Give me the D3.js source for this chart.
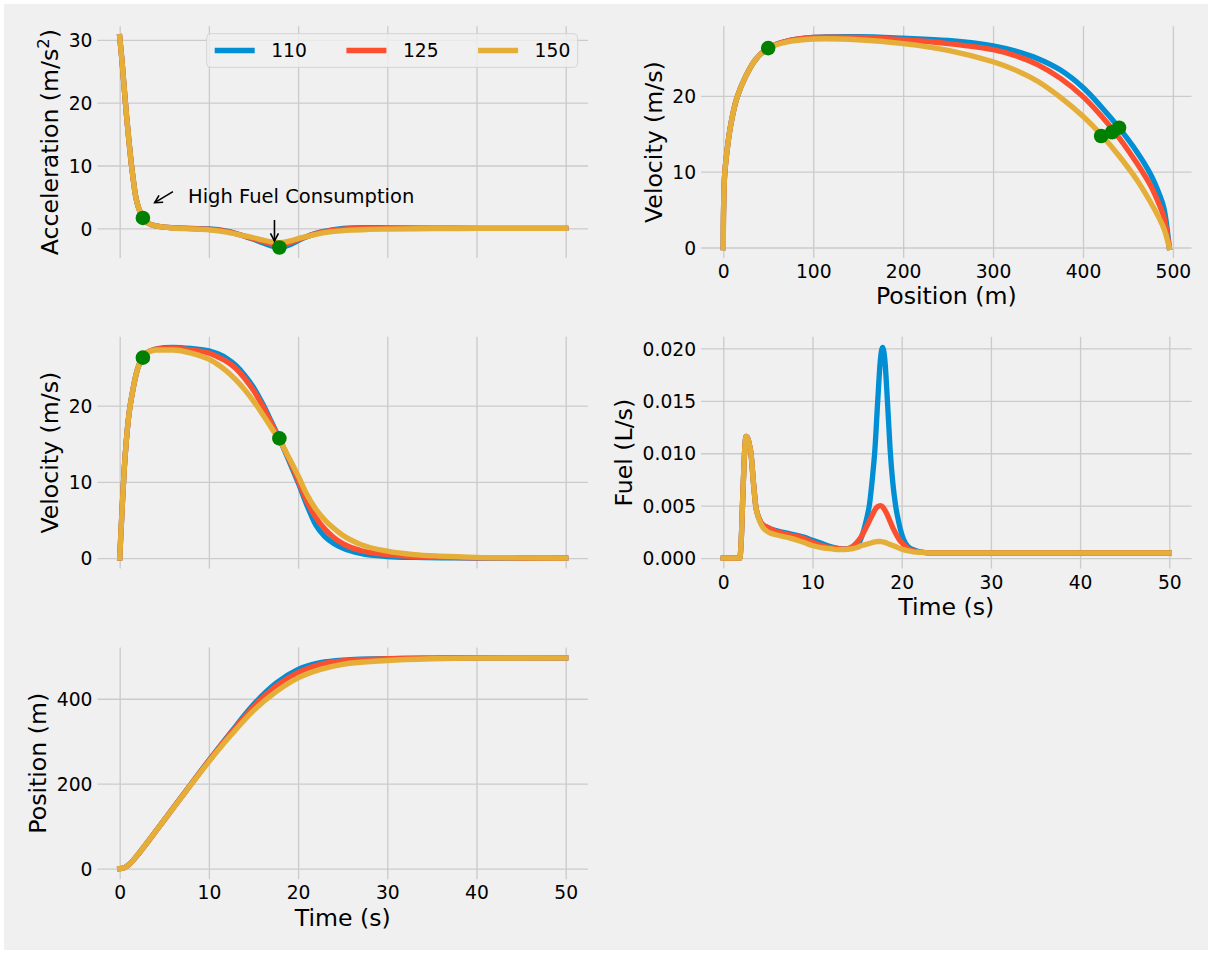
<!DOCTYPE html>
<html>
<head>
<meta charset="utf-8">
<script src="https://cdn.jsdelivr.net/npm/d3@7"></script>
<style>
  body { margin: 0; background: #ffffff; }
  svg { display: block; }
</style>
</head>
<body>
<svg id="drawing_region"></svg>
<script>
// ---- data ----
const series_names  = ["110", "125", "150"];
const series_colors = ["#008fd5", "#fc4f30", "#e5ae38"];

// acceleration (m/s^2) vs time (s)
const acc_time = [0, 0.25, 0.5, 0.75, 1, 1.25, 1.5, 1.75, 2, 2.3, 2.6, 3, 3.5, 4, 5, 6, 8, 10, 12, 14, 15, 16, 17, 17.9, 19, 20, 21, 22, 24, 26, 28, 30, 35, 40, 50];
const acc_110 = [30.5, 26.8, 22.4, 18.2, 14.4, 10.9, 8.0, 5.4, 3.8, 2.6, 1.65, 1.0, 0.6, 0.4, 0.2, 0.1, -0.02, -0.1, -0.45, -1.25, -1.75, -2.3, -2.8, -3.05, -2.65, -1.95, -1.3, -0.8, -0.2, 0.08, 0.12, 0.08, 0.02, 0, 0];
const acc_125 = [30.5, 26.8, 22.4, 18.2, 14.4, 10.9, 8.0, 5.4, 3.8, 2.6, 1.65, 1.0, 0.6, 0.4, 0.2, 0.08, -0.05, -0.15, -0.5, -1.25, -1.65, -2.1, -2.5, -2.7, -2.35, -1.8, -1.3, -0.85, -0.3, -0.05, 0.03, 0.02, 0, 0, 0];
const acc_150 = [30.5, 26.8, 22.4, 18.2, 14.4, 10.9, 8.0, 5.4, 3.8, 2.6, 1.65, 1.0, 0.6, 0.4, 0.2, 0.05, -0.1, -0.25, -0.6, -1.2, -1.5, -1.85, -2.15, -2.3, -2.05, -1.65, -1.3, -0.95, -0.5, -0.28, -0.18, -0.12, -0.05, -0.02, 0];

// velocity (m/s) vs time (s)
const vel_time = [0, 0.25, 0.5, 0.75, 1, 1.5, 2, 2.6, 3, 4, 5, 6, 8, 10, 11, 12, 13, 14, 15, 16, 17, 18, 19, 20, 21, 22, 23, 24, 25, 27, 30, 33, 36, 40, 45, 50];
const vel_110 = [0, 6, 11.5, 15.5, 18.5, 22.2, 24.8, 26.3, 26.9, 27.4, 27.6, 27.65, 27.5, 27.2, 26.8, 26.2, 25.3, 24.0, 22.4, 20.3, 17.9, 15.4, 12.7, 9.9, 6.9, 4.3, 2.8, 1.9, 1.3, 0.6, 0.2, 0.08, 0.03, 0.01, 0, 0];
const vel_125 = [0, 6, 11.5, 15.5, 18.5, 22.2, 24.8, 26.3, 26.9, 27.4, 27.5, 27.55, 27.3, 26.9, 26.4, 25.8, 24.9, 23.6, 22.0, 20.0, 17.7, 15.4, 12.9, 10.2, 7.4, 5.3, 3.8, 2.7, 1.9, 1.0, 0.45, 0.2, 0.1, 0.04, 0.01, 0];
const vel_150 = [0, 6, 11.5, 15.5, 18.5, 22.2, 24.8, 26.3, 26.9, 27.3, 27.3, 27.3, 26.9, 26.1, 25.4, 24.5, 23.4, 22.1, 20.6, 18.9, 17.1, 15.3, 13.1, 10.8, 8.3, 6.4, 5.0, 3.9, 3.0, 1.8, 0.9, 0.45, 0.25, 0.1, 0.03, 0];

// position (m) vs time (s)
const pos_time = [0, 0.5, 1, 2, 3, 4, 5, 7.5, 10, 12.5, 15, 17.5, 20, 22.5, 25, 30, 35, 40, 50];
const pos_110 = [0, 2, 9, 32, 59, 87, 115, 185, 255, 322, 386, 436, 469, 485, 491, 494.5, 495.5, 496, 496];
const pos_125 = [0, 2, 9, 32, 59, 87, 115, 185, 254, 320, 381, 429, 462, 481, 489, 494, 495.5, 496, 496];
const pos_150 = [0, 2, 9, 32, 59, 87, 115, 184, 252, 315, 372, 416, 449, 469, 481, 490, 494, 495.5, 496];

// velocity (m/s) vs position (m)
const vx_pos = [0, 0.3, 1.5, 4, 8, 15, 25, 36, 50, 70, 100, 150, 200, 250, 300, 325, 350, 375, 400, 420, 440, 460, 475, 485, 490, 496];
const vx_110 = [0, 5, 9.6, 12.6, 16.0, 19.7, 22.6, 24.8, 26.3, 27.2, 27.7, 27.8, 27.6, 27.3, 26.6, 25.9, 24.9, 23.4, 21.1, 18.6, 15.8, 12.6, 9.7, 7.0, 5.2, 0];
const vx_125 = [0, 5, 9.6, 12.6, 16.0, 19.7, 22.6, 24.8, 26.3, 27.2, 27.7, 27.7, 27.4, 26.9, 26.1, 25.3, 24.1, 22.3, 19.9, 17.4, 14.5, 11.1, 8.2, 5.6, 4.0, 0];
const vx_150 = [0, 5, 9.6, 12.6, 16.0, 19.7, 22.6, 24.8, 26.3, 27.1, 27.5, 27.4, 26.9, 26.0, 24.5, 23.4, 21.9, 19.8, 17.3, 14.9, 12.1, 8.9, 6.0, 3.8, 2.5, 0];

// fuel (L/s) vs time (s)
const fuel_time = [0, 1.85, 2.0, 2.2, 2.4, 2.55, 2.75, 2.95, 3.1, 3.35, 3.63, 4.0, 4.3, 5, 6, 7.5, 9, 10, 11, 12, 13, 13.5, 14, 14.5, 15, 15.5, 16, 16.4, 16.7, 17.0, 17.3, 17.6, 17.85, 18.1, 18.4, 18.7, 19.0, 19.3, 19.7, 20.2, 20.7, 21.3, 22, 23, 25, 30, 40, 50];
const fuel_110 = [0, 0, 0.0015, 0.0062, 0.0103, 0.0116, 0.0114, 0.0107, 0.0100, 0.0075, 0.0050, 0.0038, 0.0033, 0.0029, 0.0026, 0.0023, 0.0020, 0.0017, 0.0014, 0.0011, 0.0009, 0.00085, 0.0009, 0.0010, 0.0012, 0.0020, 0.0035, 0.0052, 0.0075, 0.0104, 0.0148, 0.0188, 0.0201, 0.0190, 0.0150, 0.0104, 0.0072, 0.0051, 0.0033, 0.0018, 0.0011, 0.0008, 0.0006, 0.0005, 0.0005, 0.0005, 0.0005, 0.0005];
const fuel_125 = [0, 0, 0.0015, 0.0062, 0.0103, 0.0116, 0.0114, 0.0107, 0.0100, 0.0075, 0.0050, 0.0038, 0.0033, 0.0029, 0.0025, 0.0022, 0.0019, 0.0015, 0.0012, 0.0010, 0.0009, 0.00085, 0.0009, 0.0011, 0.0015, 0.0021, 0.0029, 0.0036, 0.0041, 0.0046, 0.0049, 0.0050, 0.0049, 0.0046, 0.0041, 0.0035, 0.0029, 0.0024, 0.0018, 0.0013, 0.0009, 0.0007, 0.0006, 0.0005, 0.0005, 0.0005, 0.0005, 0.0005];
const fuel_150 = [0, 0, 0.0015, 0.0062, 0.0103, 0.0116, 0.0114, 0.0107, 0.0100, 0.0075, 0.0050, 0.0037, 0.0031, 0.0025, 0.0022, 0.0019, 0.0015, 0.0012, 0.0010, 0.0009, 0.0008, 0.0008, 0.00085, 0.0009, 0.0010, 0.0012, 0.0013, 0.0014, 0.00148, 0.00155, 0.00158, 0.00158, 0.00155, 0.0015, 0.0014, 0.0013, 0.0012, 0.0011, 0.00095, 0.0008, 0.0007, 0.0006, 0.00055, 0.0005, 0.0005, 0.0005, 0.0005, 0.0005];

// green markers
const acc_mark_t = [2.6, 17.9];
const acc_mark_a = [1.65, -3.05];
const vel_mark_t = [2.6, 17.9];
const vel_mark_v = [26.3, 15.7];
const vx_mark_p = [49.9, 420.2, 432.3, 440.1];
const vx_mark_v = [26.3, 14.7, 15.2, 15.8];

// annotation on the acceleration panel (data coords)
const note_text = "High Fuel Consumption";
const note_at = [7.66, 3.98];
const note_arrows = [ [[5.97, 5.83], [3.92, 4.08]], [[17.35, 1.32], [17.35, -2.02]] ];

// ticks
const time_ticks = [0, 10, 20, 30, 40, 50];
const acc_ticks = [0, 10, 20, 30];
const vel_ticks = [0, 10, 20];
const pos_ticks = [0, 200, 400];
const posx_ticks = [0, 100, 200, 300, 400, 500];
const fuel_ticks = [0, 0.005, 0.01, 0.015, 0.02];

// ---- drawing ----
const FONT = '"DejaVu Sans", "Liberation Sans", sans-serif';
const TICK_FS = 18.7;
const NOTE_FS = 19.5;
const LABEL_FS = 23.6;
const GRID = '#cbcbcb';
const LW = 5.33;

const svg = d3.select('#drawing_region')
    .attr('width', 1212)
    .attr('height', 954)
    .style('font-family', FONT);

svg.append('rect')
    .attr('x', 4).attr('y', 4)
    .attr('width', 1204).attr('height', 946)
    .attr('fill', '#f0f0f0');

const col_left = [97.4, 701];
const row_top = [26.2, 336.8, 647.4];
const ax_w = 490.6, ax_h = 231.8;

function mk_series(x, ys) {
    return ys.map((y, i) => ({ x: x, y: y, color: series_colors[i], name: series_names[i] }));
}

class Panel {

    constructor( parent, config ) {
        this.parent = parent;
        this.config = config;
        this.init();
    }

    init() {
        let self = this;
        const c = self.config;
        self.chart = self.parent.append('g')
            .attr('transform', `translate(${c.left}, ${c.top})`);
        self.xscale = d3.scaleLinear().range([0, ax_w]);
        self.yscale = d3.scaleLinear().range([ax_h, 0]);
    }

    update() {
        let self = this;
        const c = self.config;
        const pad = ext => { const m = (ext[1] - ext[0]) * 0.05; return [ext[0] - m, ext[1] + m]; };
        let xs = c.series.flatMap(s => s.x);
        let ys = c.series.flatMap(s => s.y);
        if (c.marks) { xs = xs.concat(c.marks.x); ys = ys.concat(c.marks.y); }
        self.xscale.domain( pad(d3.extent(xs)) );
        self.yscale.domain( pad(d3.extent(ys)) );
        self.render();
    }

    style_axis(g) {
        g.attr('font-family', FONT).attr('font-size', TICK_FS);
        g.select('.domain').remove();
        g.selectAll('.tick line').attr('stroke', GRID).attr('stroke-width', 1.33);
        g.selectAll('.tick text').attr('fill', '#000');
    }

    render() {
        let self = this;
        const c = self.config;

        const xaxis = d3.axisBottom(self.xscale)
            .tickValues(c.xticks)
            .tickSize(-ax_h)
            .tickPadding(7)
            .tickFormat(c.xlabels ? (c.xformat || d3.format('d')) : () => '');
        const xg = self.chart.append('g')
            .attr('transform', `translate(0, ${ax_h})`)
            .call(xaxis);
        self.style_axis(xg);

        const yaxis = d3.axisLeft(self.yscale)
            .tickValues(c.yticks)
            .tickSize(-ax_w)
            .tickPadding(4.9)
            .tickFormat(c.yformat || d3.format('d'));
        const yg = self.chart.append('g').call(yaxis);
        self.style_axis(yg);
        yg.selectAll('.tick text').attr('dy', '0.36em');

        const line = d3.line()
            .x(d => self.xscale(d[0]))
            .y(d => self.yscale(d[1]))
            .curve(c.curve || d3.curveMonotoneX);

        self.chart.selectAll('path.series')
            .data(c.series)
            .enter()
            .append('path')
            .attr('class', 'series')
            .attr('d', s => line(s.x.map((x, i) => [x, s.y[i]])))
            .attr('fill', 'none')
            .attr('stroke', s => s.color)
            .attr('stroke-width', LW)
            .attr('stroke-linejoin', 'round')
            .attr('stroke-linecap', 'square');

        if (c.marks) {
            self.chart.selectAll('circle.mark')
                .data(c.marks.x)
                .enter()
                .append('circle')
                .attr('class', 'mark')
                .attr('cx', d => self.xscale(d))
                .attr('cy', (d, i) => self.yscale(c.marks.y[i]))
                .attr('r', 7.3)
                .attr('fill', '#008000');
        }

        // y label
        let maxw = 0;
        yg.selectAll('.tick text').each(function() { maxw = Math.max(maxw, this.getComputedTextLength()); });
        const lx = -4.9 - maxw - 10.5;
        const yl = self.chart.append('text')
            .attr('transform', `translate(${lx}, ${ax_h / 2}) rotate(-90)`)
            .attr('text-anchor', 'middle')
            .attr('font-size', LABEL_FS)
            .attr('fill', '#000')
            .text(c.ylabel);
        if (c.ylabel_sup) {
            yl.append('tspan').attr('font-size', LABEL_FS * 0.7).attr('dy', '-0.55em').text(c.ylabel_sup);
            yl.append('tspan').attr('dy', '0.385em').text(')');
        }

        if (c.xlabel) {
            self.chart.append('text')
                .attr('x', ax_w / 2)
                .attr('y', ax_h + 46.5)
                .attr('text-anchor', 'middle')
                .attr('font-size', LABEL_FS)
                .attr('fill', '#000')
                .text(c.xlabel);
        }
    }

    legend() {
        let self = this;
        const bw = 371, bh = 33.6;
        const lg = self.chart.append('g')
            .attr('transform', `translate(${ax_w - 10.3 - bw}, 7.5)`);
        lg.append('rect')
            .attr('width', bw).attr('height', bh)
            .attr('rx', 4).attr('ry', 4)
            .attr('fill', '#f0f0f0').attr('fill-opacity', 0.8)
            .attr('stroke', '#d4d4d4').attr('stroke-width', 1);
        const item = lg.selectAll('g.item')
            .data(self.config.series)
            .enter()
            .append('g')
            .attr('transform', (d, i) => `translate(${8 + i * 131.7}, ${bh / 2})`);
        item.append('line')
            .attr('x1', 0).attr('x2', 40)
            .attr('stroke', d => d.color)
            .attr('stroke-width', LW);
        item.append('text')
            .attr('x', 56.5)
            .attr('dy', '0.36em')
            .attr('font-size', TICK_FS)
            .attr('fill', '#000')
            .text(d => d.name);
    }

    annotate(text, at, arrows) {
        let self = this;
        const g = self.chart.append('g');
        g.append('text')
            .attr('x', self.xscale(at[0]))
            .attr('y', self.yscale(at[1]))
            .attr('font-size', NOTE_FS)
            .attr('fill', '#000')
            .text(text);
        arrows.forEach(a => {
            const x0 = self.xscale(a[0][0]), y0 = self.yscale(a[0][1]);
            const x1 = self.xscale(a[1][0]), y1 = self.yscale(a[1][1]);
            const ang = Math.atan2(y1 - y0, x1 - x0);
            const hl = 7.5, hw = 4;
            const bx = x1 - hl * Math.cos(ang), by = y1 - hl * Math.sin(ang);
            const px = -Math.sin(ang) * hw, py = Math.cos(ang) * hw;
            g.append('line')
                .attr('x1', x0).attr('y1', y0).attr('x2', x1).attr('y2', y1)
                .attr('stroke', '#000').attr('stroke-width', 1.6);
            g.append('path')
                .attr('d', `M${bx + px},${by + py}L${x1},${y1}L${bx - px},${by - py}`)
                .attr('fill', 'none')
                .attr('stroke', '#000').attr('stroke-width', 1.6);
        });
    }
}

const acc_panel = new Panel(svg, {
    left: col_left[0], top: row_top[0],
    series: mk_series(acc_time, [acc_110, acc_125, acc_150]),
    marks: { x: acc_mark_t, y: acc_mark_a },
    xticks: time_ticks, yticks: acc_ticks, xlabels: false,
    ylabel: 'Acceleration (m/s', ylabel_sup: '2'
});
acc_panel.update();
acc_panel.annotate(note_text, note_at, note_arrows);
acc_panel.legend();

const vx_panel = new Panel(svg, {
    left: col_left[1], top: row_top[0],
    series: mk_series(vx_pos, [vx_110, vx_125, vx_150]),
    marks: { x: vx_mark_p, y: vx_mark_v },
    xticks: posx_ticks, yticks: vel_ticks, xlabels: true,
    curve: d3.curveCatmullRom.alpha(0.5),
    ylabel: 'Velocity (m/s)', xlabel: 'Position (m)'
});
vx_panel.update();

const vel_panel = new Panel(svg, {
    left: col_left[0], top: row_top[1],
    series: mk_series(vel_time, [vel_110, vel_125, vel_150]),
    marks: { x: vel_mark_t, y: vel_mark_v },
    xticks: time_ticks, yticks: vel_ticks, xlabels: false,
    ylabel: 'Velocity (m/s)'
});
vel_panel.update();

const fuel_panel = new Panel(svg, {
    left: col_left[1], top: row_top[1],
    series: mk_series(fuel_time, [fuel_110, fuel_125, fuel_150]),
    xticks: time_ticks, yticks: fuel_ticks, xlabels: true,
    yformat: d3.format('.3f'),
    ylabel: 'Fuel (L/s)', xlabel: 'Time (s)'
});
fuel_panel.update();

const pos_panel = new Panel(svg, {
    left: col_left[0], top: row_top[2],
    series: mk_series(pos_time, [pos_110, pos_125, pos_150]),
    xticks: time_ticks, yticks: pos_ticks, xlabels: true,
    ylabel: 'Position (m)', xlabel: 'Time (s)'
});
pos_panel.update();
</script>
</body>
</html>
